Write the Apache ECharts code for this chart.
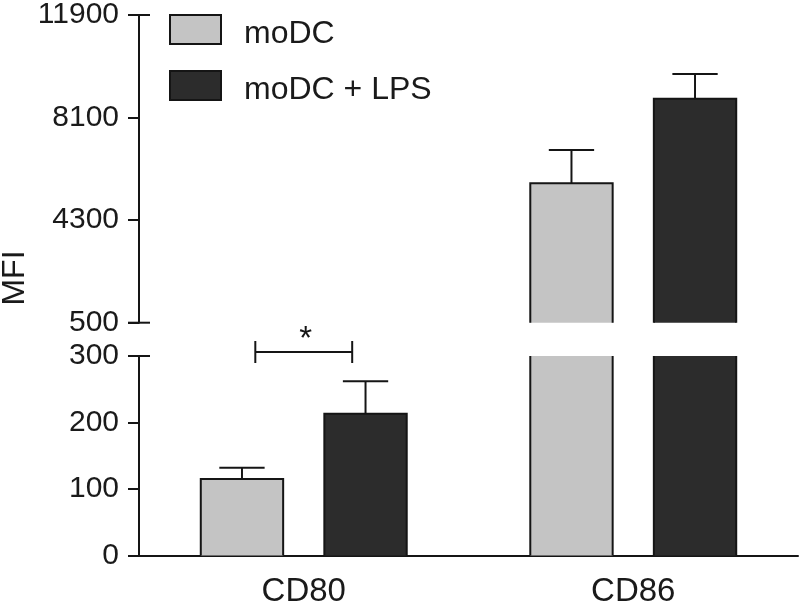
<!DOCTYPE html>
<html><head><meta charset="utf-8">
<script src="https://cdn.jsdelivr.net/npm/echarts@6/dist/echarts.min.js"></script>
<style>html,body{margin:0;padding:0;background:#fff}#c{width:800px;height:605px}</style>
</head><body><div id="c"></div>
<script>
// ---- data ----
const categories = ['CD80', 'CD86'];
const seriesNames = ['moDC', 'moDC + LPS'];
const moDC = [115, 5665];
const moDCErr = [17, 1235];
const moDCLPS = [213, 8800];
const moDCLPSErr = [49, 915];
const lowerTicks = [0, 100, 200, 300];
const upperTicks = [500, 4300, 8100, 11900];
const sigCategory = 'CD80';
const sigLevel = 306;
const sigLabel = '*';
const yAxisTitle = 'MFI';

// ---- styling ----
const FONT = "'Liberation Sans', Arial, Helvetica, sans-serif";
const INK = '#151515';
const TXT = '#1a1a1a';
const colors = ['#c4c4c4', '#2c2c2c'];

const lowMin = lowerTicks[0], lowMax = lowerTicks[lowerTicks.length - 1];
const upMin = upperTicks[0], upMax = upperTicks[upperTicks.length - 1];
const values = [moDC, moDCLPS];
const errors = [moDCErr, moDCLPSErr];

function outlineRender(segMin, segMax, sIdx) {
  return function (params, api) {
    const cat = api.value(0), v = api.value(1), err = api.value(2);
    if (!(v > segMin)) return null;
    const band = api.size([1, 0])[0];
    const bw = band * 0.25;
    const base = api.coord([cat, segMin]);
    const cx = base[0] + (sIdx === 0 ? -0.75 : 0.75) * bw;
    const x0 = cx - bw / 2, x1 = cx + bw / 2;
    const yb = base[1];
    const top = Math.min(v, segMax);
    const yt = api.coord([cat, top])[1];
    const style = { stroke: INK, lineWidth: 2, fill: null };
    const children = [];
    if (v > segMax) {
      children.push({ type: 'line', shape: { x1: x0, y1: yb, x2: x0, y2: yt }, style });
      children.push({ type: 'line', shape: { x1: x1, y1: yb, x2: x1, y2: yt }, style });
    } else {
      const ye = api.coord([cat, v + err])[1];
      const cap = bw * 0.275;
      children.push({ type: 'line', shape: { x1: cx, y1: yt, x2: cx, y2: ye }, style });
      children.push({ type: 'line', shape: { x1: cx - cap, y1: ye, x2: cx + cap, y2: ye }, style });
      children.push({ type: 'polyline', shape: { points: [[x0, yb], [x0, yt], [x1, yt], [x1, yb]] }, style });
    }
    return { type: 'group', children };
  };
}

const series = [];
// fills: lower segment
values.forEach((arr, i) => {
  series.push({
    type: 'bar', name: seriesNames[i], xAxisIndex: 0, yAxisIndex: 0,
    data: arr.slice(), barWidth: '25%', barGap: '50%',
    itemStyle: { color: colors[i], borderWidth: 0 }, silent: true
  });
});
// fills: upper segment
values.forEach((arr, i) => {
  series.push({
    type: 'bar', name: seriesNames[i], xAxisIndex: 1, yAxisIndex: 1,
    data: arr.map(v => (v > upMin ? v : '-')), barWidth: '25%', barGap: '50%',
    itemStyle: { color: colors[i], borderWidth: 0 }, silent: true
  });
});
// outlines + error bars
values.forEach((arr, i) => {
  const d = arr.map((v, k) => [k, v, errors[i][k]]);
  series.push({
    type: 'custom', xAxisIndex: 0, yAxisIndex: 0, data: d, encode: { x: 0, y: 1 },
    renderItem: outlineRender(lowMin, lowMax, i), silent: true, clip: false, z: 5
  });
  series.push({
    type: 'custom', xAxisIndex: 1, yAxisIndex: 1, data: d, encode: { x: 0, y: 1 },
    renderItem: outlineRender(upMin, upMax, i), silent: true, clip: false, z: 5
  });
});
// significance bracket
series.push({
  type: 'custom', xAxisIndex: 0, yAxisIndex: 0, silent: true, clip: false, z: 6,
  data: [[categories.indexOf(sigCategory), sigLevel]], encode: { x: 0, y: 1 },
  renderItem: function (params, api) {
    const p = api.coord([api.value(0), api.value(1)]);
    const half = api.size([1, 0])[0] * 0.147;
    const style = { stroke: INK, lineWidth: 2, fill: null };
    return {
      type: 'group', children: [
        { type: 'line', shape: { x1: p[0] - half, y1: p[1], x2: p[0] + half, y2: p[1] }, style },
        { type: 'line', shape: { x1: p[0] - half, y1: p[1] - 11, x2: p[0] - half, y2: p[1] + 11 }, style },
        { type: 'line', shape: { x1: p[0] + half, y1: p[1] - 11, x2: p[0] + half, y2: p[1] + 11 }, style },
        { type: 'text', style: { text: sigLabel, x: p[0] + 2, y: p[1] - 12, align: 'center', verticalAlign: 'middle', font: '33px ' + FONT, fill: INK } }
      ]
    };
  }
});

const axisLabelCommon = { color: TXT, fontSize: 30, fontFamily: FONT, formatter: v => String(v) };

const option = {
  animation: false,
  backgroundColor: '#fff',
  grid: [
    { left: 139, right: 2, top: 356, height: 199.5, outerBoundsMode: 'none', containLabel: false },
    { left: 139, right: 2, top: 15, height: 307.7, outerBoundsMode: 'none', containLabel: false }
  ],
  xAxis: [
    {
      type: 'category', gridIndex: 0, data: categories,
      axisLine: { lineStyle: { color: INK, width: 2 } },
      axisTick: { alignWithLabel: true, length: 11, lineStyle: { color: INK, width: 2 } },
      axisLabel: { margin: 20, fontSize: 33, color: TXT, fontFamily: FONT }
    },
    { type: 'category', gridIndex: 1, data: categories, show: false }
  ],
  yAxis: [
    {
      type: 'value', gridIndex: 0, min: lowMin, max: lowMax, interval: lowerTicks[1] - lowerTicks[0],
      splitLine: { show: false },
      axisLine: { show: true, symbol: ['none', 'rect'], symbolSize: [22, 2], lineStyle: { color: INK, width: 2 } },
      axisTick: { show: true, length: 11, lineStyle: { color: INK, width: 2 } },
      axisLabel: Object.assign({ margin: 20 }, axisLabelCommon)
    },
    {
      type: 'value', gridIndex: 1, min: upMin, max: upMax, interval: upperTicks[1] - upperTicks[0],
      splitLine: { show: false },
      axisLine: { show: true, symbol: ['rect', 'rect'], symbolSize: [22, 2], lineStyle: { color: INK, width: 2 } },
      axisTick: { show: true, length: 11, lineStyle: { color: INK, width: 2 } },
      axisLabel: Object.assign({ margin: 20 }, axisLabelCommon)
    }
  ],
  legend: {
    orient: 'vertical', left: 169, top: 14, padding: 0, itemWidth: 51, itemHeight: 29, itemGap: 20,
    icon: 'rect', selectedMode: false,
    itemStyle: { borderColor: INK, borderWidth: 2 },
    formatter: name => '{t|' + name + '}',
    textStyle: {
      fontSize: 32, color: TXT, fontFamily: FONT, padding: [0, 0, 0, 18],
      rich: { t: { fontSize: 32, color: TXT, fontFamily: FONT, padding: [9, 0, 0, 0] } }
    },
    data: seriesNames
  },
  graphic: [
    {
      type: 'text', x: 15, y: 278, rotation: Math.PI / 2,
      style: { text: yAxisTitle, align: 'center', verticalAlign: 'middle', font: '32px ' + FONT, fill: TXT }
    }
  ],
  series
};

const chart = echarts.init(document.getElementById('c'), null, { renderer: 'canvas' });
chart.setOption(option);
</script>
</body></html>
